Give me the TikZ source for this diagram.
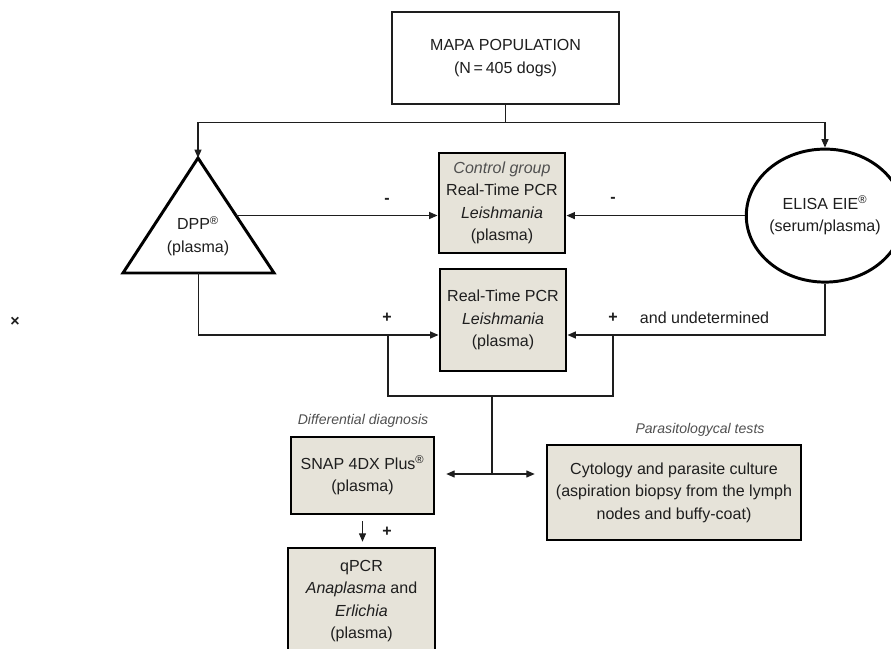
\documentclass[tikz,border=0pt]{standalone}
\usepackage{fontspec}
\setmainfont{Liberation Sans}
\usepackage{tikz}
\usetikzlibrary{arrows.meta,shapes.geometric,calc,positioning}
\definecolor{beige}{RGB}{230, 227, 217}
\definecolor{gris}{RGB}{80, 80, 80}
\definecolor{tinta}{RGB}{30, 30, 30}
\tikzstyle{edge}  =[line width=0.85pt, draw=tinta]
\tikzstyle{arr}   =[edge, -{Triangle[length=6pt,width=5pt]}]
\tikzstyle{dbl}   =[edge, {Triangle[length=6pt,width=5pt]}-{Triangle[length=6pt,width=5pt]},
                    shorten <=0.27cm, shorten >=0.27cm]
\tikzstyle{testbox}=[rectangle, draw=black, line width=2.1pt, fill=beige,
                    align=center, inner sep=1pt]
\tikzstyle{popbox}=[rectangle, draw=tinta, line width=0.9pt, fill=white,
                    align=center]
\tikzstyle{kit}   =[ellipse, draw=black, line width=2.1pt, fill=white,
                    align=center, inner sep=0pt]
\tikzstyle{tri}   =[draw=black, line width=2.1pt, fill=white]
\tikzstyle{note}  =[font=\itshape, text=gris]

\begin{document}
\begin{tikzpicture}[font=\fontsize{11.4}{16}\selectfont, text=tinta]
        \useasboundingbox (0,0) rectangle (22.275,-16.225);

        % population
        \draw (12.64,-1.45) node(mapa)[popbox, minimum width=5.675cm, minimum height=2.3cm]
            {MAPA POPULATION\\(N\,=\,405 dogs)};
        \coordinate (split) at ($(mapa.south)+(0,-0.45)$);

        % screening tests
        \draw[tri] (4.95,-3.95) coordinate(dpptop) -- (6.85,-6.825) coordinate(dppR)
            -- (3.075,-6.825) coordinate(dppL) -- cycle;
        \draw (4.95,-5.9) node(dpp)[align=center]{DPP\textsuperscript{®}\\(plasma)};
        \coordinate (dppout) at ($(dpptop)!0.5!(dppR)$);
        \coordinate (dppbase) at ($(dppL)!0.5!(dppR)$);

        \draw (20.625,-5.39) node(elisa)[kit, minimum width=3.6cm, minimum height=3.325cm]
            {ELISA EIE\textsuperscript{®}\\(serum/plasma)};

        % real-time pcr
        \draw (12.55,-5.075) node(ctrl)[testbox, minimum width=3.15cm, minimum height=2.5cm]
            {{\itshape\color{gris}Control group}\\Real-Time PCR\\\textit{Leishmania}\\(plasma)};
        \draw (12.575,-8.0) node(pcr)[testbox, minimum width=3.15cm, minimum height=2.55cm]
            {Real-Time PCR\\\textit{Leishmania}\\(plasma)};

        % further tests
        \draw (9.0625,-11.8875) node(snap)[testbox, minimum width=3.575cm, minimum height=1.925cm]
            {SNAP 4DX Plus\textsuperscript{®}\\(plasma)};
        \draw (16.85,-12.3125) node(cyto)[testbox, minimum width=6.35cm, minimum height=2.375cm]
            {Cytology and parasite culture\\(aspiration biopsy from the lymph\\nodes and buffy-coat)};
        \draw (9.0375,-15.025) node(qpcr)[testbox, minimum width=3.675cm, minimum height=2.65cm]
            {qPCR\\\textit{Anaplasma} and\\\textit{Erlichia}\\(plasma)};

        \draw (9.075,-10.525) node(dd)[note]{Differential diagnosis};
        \draw (17.5,-10.75) node(pt)[note]{Parasitologycal tests};

        % signs
        \draw (9.675,-5.025) node(negA){\bfseries -};
        \draw (15.325,-5.0) node(negB){\bfseries -};
        \draw (9.675,-7.95) node(posA){\bfseries +};
        \draw (15.325,-7.95) node(posB){\bfseries +};
        \draw (15.875,-7.95) node(undet)[anchor=west]{and undetermined};
        \draw (9.675,-13.3) node(posC){\bfseries +};
        \draw (0.375,-8.05) node(cross){\bfseries ×};

        % connectors
        \draw [edge] (mapa.south) -- (split);
        \draw [arr] (split) -| (dpptop);
        \draw [arr] (split) -| (elisa.north);

        \draw [arr] (dppout) -- (dppout -| ctrl.west);
        \draw [arr] (elisa.west) -- (elisa.west -| ctrl.east);

        \coordinate (lowL) at (dppbase |- 0,-8.375);
        \coordinate (lowR) at (elisa.south |- 0,-8.375);
        \draw [arr] (dppbase) -- (lowL) -- (lowL -| pcr.west);
        \draw [arr] (elisa.south) -- (lowR) -- (lowR -| pcr.east);

        \coordinate (bl) at (9.7,-8.375);
        \coordinate (br) at (15.325,-8.375);
        \coordinate (bmid) at (12.3,-9.9);
        \coordinate (hub) at (12.3,-11.85);
        \draw [edge] (bl) |- (bmid) -| (br);
        \draw [edge] (bmid) -- (hub);
        \draw [dbl] (hub -| snap.east) -- (hub -| cyto.west);

        \draw [arr, shorten <=0.15cm, shorten >=0.12cm] (snap.south) -- (snap.south |- qpcr.north);

\end{tikzpicture}
\end{document}
